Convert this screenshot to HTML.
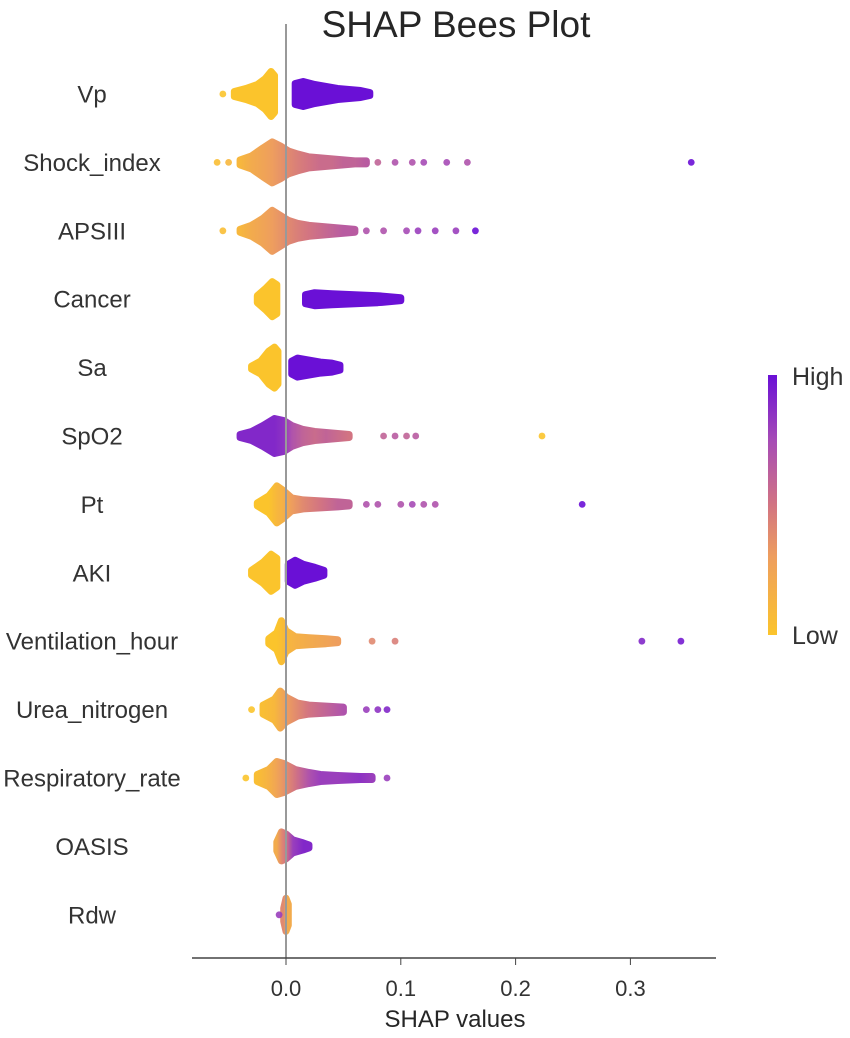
<!DOCTYPE html>
<html><head><meta charset="utf-8"><style>
body{margin:0;background:#fff;font-family:"Liberation Sans",sans-serif}
svg{display:block}
</style></head><body>
<svg id="chart" width="850" height="1038">
<defs><linearGradient id="cb" x1="0" y1="1" x2="0" y2="0">
<stop offset="0" stop-color="#fbc42c"/><stop offset="0.3" stop-color="#ee9e5e"/><stop offset="0.5" stop-color="#d27482"/><stop offset="0.75" stop-color="#a64bb6"/><stop offset="1" stop-color="#6a10d6"/></linearGradient></defs>
<text x="456" y="37" font-size="37" text-anchor="middle" fill="#262626">SHAP Bees Plot</text>
<g id="rows"></g>
<line x1="286" y1="24" x2="286" y2="958" stroke="#999" stroke-width="2"/>
<line x1="192" y1="958" x2="716" y2="958" stroke="#444" stroke-width="1.5"/>
<g id="ticks"></g>
<text x="455" y="1027" font-size="24" text-anchor="middle" fill="#262626">SHAP values</text>
<rect x="768" y="375" width="9" height="260" fill="url(#cb)"/>
<text x="792" y="385" font-size="25" fill="#333">High</text>
<text x="792" y="644" font-size="25" fill="#333">Low</text>
</svg>
<script>
const features=["Vp","Shock_index","APSIII","Cancer","Sa","SpO2","Pt","AKI","Ventilation_hour","Urea_nitrogen","Respiratory_rate","OASIS","Rdw"];
const tickValues=[0.0,0.1,0.2,0.3];
const tickLabels=["0.0","0.1","0.2","0.3"];
// blobs: arrays of [shap value, half-height in px, feature value 0..1]
const blobs=[
 [[[-0.045,2,0],[-0.035,5,0],[-0.025,9,0],[-0.018,15,0],[-0.013,22,0],[-0.010,18,0]],[[0.008,10,1],[0.015,12,1],[0.025,9,1],[0.035,7,1],[0.045,5,1],[0.055,4,1],[0.065,3,1],[0.073,1,1]]],
 [[[-0.04,2,.1],[-0.03,6,.2],[-0.02,14,.25],[-0.012,20,.3],[-0.005,16,.35],[0.002,11,.4],[0.01,8,.45],[0.02,5,.5],[0.03,4,.55],[0.04,3,.55],[0.05,2,.6],[0.06,1,.6],[0.07,1,.65]]],
 [[[-0.04,1,.1],[-0.03,5,.2],[-0.02,12,.25],[-0.012,20,.3],[-0.005,15,.35],[0.002,10,.4],[0.01,7,.45],[0.02,5,.5],[0.03,4,.55],[0.04,3,.6],[0.05,2,.65],[0.06,1,.65]]],
 [[[-0.025,3,0],[-0.018,10,0],[-0.012,17,0],[-0.008,14,0]],[[0.017,4,1],[0.025,6,1],[0.04,5,1],[0.06,4,1],[0.08,3,1],[0.1,1,1]]],
 [[[-0.03,1,0],[-0.022,6,0],[-0.015,16,0],[-0.01,20,0],[-0.007,16,0]],[[0.005,6,1],[0.01,9,1],[0.02,7,1],[0.03,5,1],[0.04,4,1],[0.047,2,1]]],
 [[[-0.04,1,.9],[-0.03,4,.9],[-0.02,10,.9],[-0.01,17,.9],[-0.002,15,.85],[0.005,10,.7],[0.015,6,.6],[0.025,4,.55],[0.035,3,.6],[0.045,2,.55],[0.055,1,.5]]],
 [[[-0.025,1,0],[-0.015,8,0],[-0.008,18,.1],[-0.003,14,.15],[0.005,6,.3],[0.015,4,.4],[0.03,3,.5],[0.045,2,.6],[0.055,1,.6]]],
 [[[-0.03,2,0],[-0.02,10,0],[-0.013,18,0],[-0.008,14,0]],[[0.002,8,1],[0.008,12,1],[0.015,8,1],[0.025,5,1],[0.033,2,1]]],
 [[[-0.015,2,0],[-0.008,8,0],[-0.004,20,.05],[0,10,.1],[0.008,4,.15],[0.02,3,.2],[0.035,2,.25],[0.045,1,.3]]],
 [[[-0.02,4,.05],[-0.01,10,.1],[-0.005,18,.2],[0,12,.3],[0.01,6,.4],[0.02,4,.5],[0.035,3,.6],[0.05,2,.7]]],
 [[[-0.025,3,.05],[-0.015,8,.15],[-0.008,16,.25],[-0.002,14,.35],[0.008,8,.5],[0.02,5,.7],[0.03,3,.8],[0.045,2,.8],[0.065,1,.85],[0.075,1,.8]]],
 [[[-0.008,4,.2],[-0.004,14,.4],[0,12,.5],[0.006,6,.8],[0.015,3,.9],[0.02,1,.9]]],
 [[[-0.002,6,.4],[0,16,.2],[0.002,10,.2]]]
];
// outlier points: [shap value, feature value]
const outliers=[
 [[-0.055,0]],
 [[-0.06,.05],[-0.05,.1],[0.08,.6],[0.095,.7],[0.11,.7],[0.12,.75],[0.14,.75],[0.158,.7],[0.353,1]],
 [[-0.055,.05],[0.07,.7],[0.085,.7],[0.105,.75],[0.115,.8],[0.13,.8],[0.148,.8],[0.165,1]],
 [],[],
 [[0.085,.6],[0.095,.65],[0.105,.6],[0.113,.65],[0.223,0]],
 [[0.07,.7],[0.08,.7],[0.1,.7],[0.11,.75],[0.12,.7],[0.13,.7],[0.258,1]],
 [],
 [[0.075,.4],[0.095,.45],[0.31,.9],[0.344,.95]],
 [[-0.03,0],[0.07,.8],[0.08,.85],[0.088,.9]],
 [[-0.035,0],[0.088,.8]],
 [],
 [[-0.006,.8]]
];
const X=v=>286+v*1148;
const Y=i=>94+i*68.4;
const stops=[[0,[251,196,44]],[.3,[238,158,94]],[.5,[210,116,130]],[.75,[166,75,182]],[1,[106,16,214]]];
function col(t){for(let k=1;k<stops.length;k++){if(t<=stops[k][0]){const a=stops[k-1],b=stops[k],f=(t-a[0])/(b[0]-a[0]);return 'rgb('+a[1].map((c,j)=>Math.round(c+(b[1][j]-c)*f)).join(',')+')';}}return 'rgb(106,16,214)';}
const NS="http://www.w3.org/2000/svg";
const rows=document.getElementById('rows'),svg=document.getElementById('chart');
let gid=0;
features.forEach((f,i)=>{
 const y=Y(i);
 const t=document.createElementNS(NS,'text');
 t.setAttribute('x',92);t.setAttribute('y',y+8.5);t.setAttribute('font-size',24);t.setAttribute('text-anchor','middle');t.setAttribute('fill','#333');
 t.textContent=f;
 
 
 rows.appendChild(t);
 const g=document.createElementNS(NS,'g');
 
 
 rows.appendChild(g);
 blobs[i].forEach(b=>{
  const id='g'+(gid++);
  const lg=document.createElementNS(NS,'linearGradient');
  lg.setAttribute('id',id);lg.setAttribute('gradientUnits','userSpaceOnUse');
  lg.setAttribute('x1',X(b[0][0]));lg.setAttribute('x2',X(b[b.length-1][0]));lg.setAttribute('y1',0);lg.setAttribute('y2',0);
  const span=(b[b.length-1][0]-b[0][0])||1;
  b.forEach(p=>{const s=document.createElementNS(NS,'stop');s.setAttribute('offset',(p[0]-b[0][0])/span);s.setAttribute('stop-color',col(p[2]));lg.appendChild(s);});
  svg.querySelector('defs').appendChild(lg);
  const r=0.5;
  let top=b.map(p=>X(p[0])+','+(y-p[1]-r)).join(' ');
  let bot=b.slice().reverse().map(p=>X(p[0])+','+(y+p[1]+r)).join(' ');
  const pg=document.createElementNS(NS,'polygon');
  pg.setAttribute('points',top+' '+bot);pg.setAttribute('fill','url(#'+id+')');
  pg.setAttribute('stroke','url(#'+id+')');pg.setAttribute('stroke-width',7);pg.setAttribute('stroke-linejoin','round');
  
  
  g.appendChild(pg);
 });
 outliers[i].forEach(p=>{
  const c=document.createElementNS(NS,'circle');
  c.setAttribute('cx',X(p[0]));c.setAttribute('cy',y);c.setAttribute('r',3.4);c.setAttribute('fill',col(p[1]));c.setAttribute('opacity',0.9);
  
  
  g.appendChild(c);
 });
});
const tk=document.getElementById('ticks');
tickValues.forEach((v,k)=>{
 const l=document.createElementNS(NS,'line');
 l.setAttribute('x1',X(v));l.setAttribute('x2',X(v));l.setAttribute('y1',958);l.setAttribute('y2',965);l.setAttribute('stroke','#444');
 
 
 tk.appendChild(l);
 const t=document.createElementNS(NS,'text');
 t.setAttribute('x',X(v));t.setAttribute('y',996);t.setAttribute('font-size',22);t.setAttribute('text-anchor','middle');t.setAttribute('fill','#333');
 t.textContent=tickLabels[k];
 
 
 tk.appendChild(t);
});
</script>
</body></html>
